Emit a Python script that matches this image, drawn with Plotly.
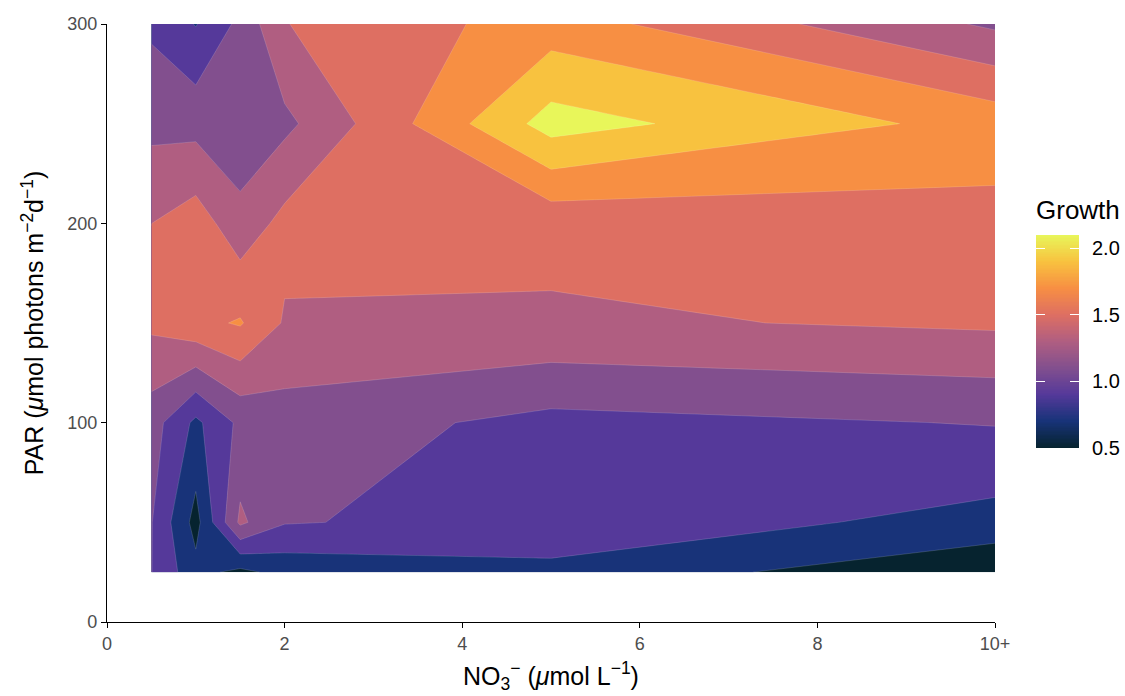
import plotly.graph_objects as go

# ---- data ----
no3 = [0.5, 1, 1.5, 2, 5, 10]                 # NO3- (umol L-1); 10 shown as "10+"
par = [25, 50, 100, 150, 200, 250, 300]       # PAR
growth = [
    [1.005, 0.66, 0.549, 0.665, 0.75, 0.42],    # PAR 25
    [1.01, 0.53, 1.24, 1.013, 0.929, 0.73],     # PAR 50
    [1.091, 0.756, 1.046, 1.107, 0.94, 1.01],   # PAR 100
    [1.442, 1.55, 1.618, 1.38, 1.37, 1.432],    # PAR 150
    [1.399, 1.504, 1.273, 1.462, 1.4625, 1.525],# PAR 200
    [1.144, 1.133, 1.045, 1.151, 2.085, 1.722], # PAR 250
    [0.964, 0.79, 1.05, 1.394, 1.696, 1.167],   # PAR 300
]
x_tickvals = [0, 2, 4, 6, 8, 10]
x_ticktext = ["0", "2", "4", "6", "8", "10+"]
y_tickvals = [0, 100, 200, 300]
cb_tickvals = [0.5, 1.0, 1.5, 2.0]
cb_ticktext = ["0.5", "1.0", "1.5", "2.0"]

# thermal-like colours at band mid-points 0.5, 0.7, ..., 2.1
band_colors = ["#06232f", "#183379", "#55399a", "#824f8e", "#b05e81",
               "#de6f62", "#f78f43", "#f8c23f", "#e8f65a"]
n = len(band_colors)
colorscale = [[i / (n - 1), c] for i, c in enumerate(band_colors)]
cmin, cmax = 0.5, 2.1

FONT = "Liberation Sans, Arial, Helvetica, sans-serif"

# figure geometry
W, H = 1125, 696
ML, MR, MT, MB = 107, 10, 24, 74
paper_w = W - ML - MR
paper_h = H - MT - MB
main_right = 888 / paper_w
leg_x0 = (1036 - ML) / paper_w
leg_x1 = (1079 - ML) / paper_w
plot_bottom = H - MB
leg_y0 = (plot_bottom - 448) / paper_h
leg_y1 = (plot_bottom - 235) / paper_h

fig = go.Figure()
fig.add_trace(go.Contour(
    x=no3, y=par, z=growth,
    autocontour=False,
    contours=dict(start=0.6, end=2.0, size=0.2, coloring="fill", showlines=True),
    line=dict(width=0.5, color="rgba(255,255,255,0.3)", smoothing=0),
    colorscale=colorscale,
    showscale=False,
    hoverinfo="skip",
    xaxis="x", yaxis="y",
))

# continuous gradient legend (ggplot-style colourbar) on its own small axes
n_steps = 161
leg_vals = [cmin + (cmax - cmin) * i / (n_steps - 1) for i in range(n_steps)]
fig.add_trace(go.Heatmap(
    x=[0], y=leg_vals, z=[[v] for v in leg_vals],
    colorscale=colorscale, zmin=cmin, zmax=cmax, showscale=False,
    hoverinfo="skip", xaxis="x2", yaxis="y2",
))
# dummy trace so the left-side tick axis of the legend is drawn
fig.add_trace(go.Scatter(x=[None], y=[None], xaxis="x2", yaxis="y3",
                         showlegend=False, hoverinfo="skip"))

fig.update_layout(
    width=W, height=H, autosize=False,
    margin=dict(l=ML, r=MR, t=MT, b=MB, autoexpand=False),
    paper_bgcolor="white", plot_bgcolor="white",
    font=dict(family=FONT),
    showlegend=False,
    xaxis=dict(
        domain=[0, main_right], anchor="y", automargin=False,
        range=[0, 10], tickvals=x_tickvals, ticktext=x_ticktext,
        showline=True, linecolor="black", linewidth=1.2,
        ticks="outside", ticklen=5, tickcolor="black", tickwidth=1.1,
        showgrid=False, zeroline=False,
        tickfont=dict(size=18, color="#4d4d4d"),
        title=dict(text="NO<sub>3</sub><sup>−</sup> (<i>μ</i>mol L<sup>−1</sup>)",
                   font=dict(size=25, color="black"), standoff=14),
    ),
    yaxis=dict(
        domain=[0, 1], anchor="x", automargin=False,
        range=[0, 300], tickvals=y_tickvals,
        showline=True, linecolor="black", linewidth=1.2,
        ticks="outside", ticklen=5, tickcolor="black", tickwidth=1.1,
        showgrid=False, zeroline=False,
        tickfont=dict(size=18, color="#4d4d4d"),
        title=dict(text="PAR (<i>μ</i>mol photons m<sup>−2</sup>d<sup>−1</sup>)",
                   font=dict(size=25, color="black"), standoff=16),
    ),
    xaxis2=dict(domain=[leg_x0, leg_x1], anchor="y2", range=[-0.5, 0.5],
                visible=False, fixedrange=True, automargin=False),
    yaxis2=dict(domain=[leg_y0, leg_y1], anchor="x2", side="right",
                automargin=False,
                range=[cmin, cmax], tickvals=cb_tickvals, ticktext=cb_ticktext,
                ticks="inside", ticklen=9, tickcolor="white", tickwidth=1.2,
                showline=False, showgrid=False, zeroline=False,
                ticklabelstandoff=12,
                tickfont=dict(size=20, color="black")),
    yaxis3=dict(overlaying="y2", anchor="x2", side="left", automargin=False,
                range=[cmin, cmax], tickvals=cb_tickvals,
                ticks="inside", ticklen=9, tickcolor="white", tickwidth=1.2,
                showticklabels=False,
                showline=False, showgrid=False, zeroline=False),
    annotations=[dict(
        text="Growth", xref="paper", yref="paper",
        x=leg_x0, y=leg_y1 + 8 / paper_h, xanchor="left", yanchor="bottom",
        showarrow=False, font=dict(size=26, color="black"), xshift=-2,
    )],
)

fig.write_html("out.html", config={"displayModeBar": False},
               post_script="document.body.style.margin='0';")
